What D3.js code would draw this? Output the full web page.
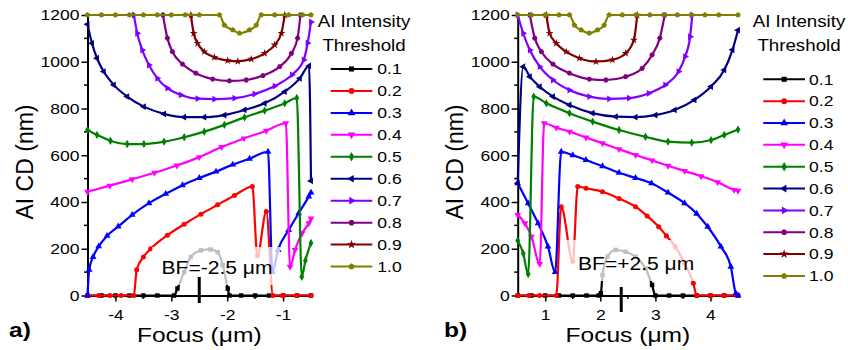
<!DOCTYPE html>
<html>
<head>
<meta charset="utf-8">
<script src="https://cdn.jsdelivr.net/npm/d3@7"></script>
<style>
  body { margin: 0; background: #fff; }
  text { font-family: "Liberation Sans", Arial, sans-serif; fill: #000; }
</style>
</head>
<body>
<svg id="chart" width="848" height="350"></svg>
<script>
// Thresholds, colours and tick values
const thresholds = ['0.1', '0.2', '0.3', '0.4', '0.5', '0.6', '0.7', '0.8', '0.9', '1.0'];
const colors = ['#000000', '#ff0000', '#0000ff', '#ff00ff', '#008000', '#000080', '#8000ff', '#800080', '#800000', '#808000'];
const yTicks = [0, 200, 400, 600, 800, 1000, 1200];
const yMinor = [100, 300, 500, 700, 900, 1100];
const aTicks = [-4, -3, -2, -1];
const aMinor = [-3.5, -2.5, -1.5];
const bTicks = [1, 2, 3, 4];
const bMinor = [1.5, 2.5, 3.5];

// Panel a) : [focus, CD]
const a01 = [[-4.5, 0], [-4.25, 0], [-4, 0], [-3.75, 0], [-3.5, 0], [-3.25, 0], [-2.95, 0], [-2.89, 30], [-2.77, 100], [-2.65, 165], [-2.47, 193], [-2.3, 197], [-2.17, 185], [-2.08, 130], [-1.99, 30], [-1.96, 0], [-1.75, 0], [-1.5, 0], [-1.25, 0], [-1, 0], [-0.75, 0], [-0.5, 0]];
const a02 = [[-4.5, 0], [-4.3, 0], [-4.1, 0], [-3.9, 0], [-3.67, 0], [-3.62, 110], [-3.5, 165], [-3.37, 200], [-3.07, 258], [-2.77, 305], [-2.47, 348], [-2.17, 388], [-1.87, 428], [-1.55, 466], [-1.46, 170], [-1.3, 359], [-1.18, 0], [-1, 0], [-0.75, 0], [-0.5, 0]];
const a03 = [[-4.5, 0], [-4.47, 110], [-4.4, 165], [-4.3, 210], [-4.15, 255], [-3.95, 295], [-3.7, 345], [-3.4, 395], [-3.1, 435], [-2.8, 472], [-2.5, 503], [-2.2, 530], [-1.9, 560], [-1.6, 585], [-1.27, 615], [-1.19, 100], [-1.09, 195], [-0.9, 280], [-0.72, 352], [-0.54, 423], [-0.5, 440]];
const a04 = [[-4.5, 444], [-4.1, 470], [-3.7, 497], [-3.3, 525], [-2.9, 556], [-2.5, 592], [-2.1, 635], [-1.7, 672], [-1.3, 705], [-0.95, 737], [-0.875, 123], [-0.785, 195], [-0.66, 266], [-0.54, 309], [-0.5, 330]];
const a05 = [[-4.5, 708], [-4.33, 687], [-4.09, 662], [-3.79, 648], [-3.49, 648], [-3.13, 658], [-2.77, 677], [-2.41, 701], [-2.05, 730], [-1.69, 762], [-1.33, 791], [-0.97, 822], [-0.755, 845], [-0.665, 80], [-0.6, 150], [-0.5, 225]];
const a06 = [[-4.5, 1160], [-4.42, 1079], [-4.33, 1015], [-4.21, 958], [-4.03, 901], [-3.79, 851], [-3.49, 808], [-3.13, 777], [-2.77, 763], [-2.41, 763], [-2.05, 772], [-1.69, 794], [-1.33, 822], [-0.97, 872], [-0.7, 929], [-0.535, 982], [-0.5, 490]];
const a07 = [[-3.67, 1200], [-3.61, 1122], [-3.52, 1050], [-3.4, 986], [-3.25, 929], [-3.07, 887], [-2.83, 858], [-2.53, 842], [-2.23, 840], [-1.87, 844], [-1.51, 862], [-1.15, 896], [-0.84, 944], [-0.63, 1008], [-0.56, 1080], [-0.5, 1170]];
const a08 = [[-3.15, 1200], [-3.07, 1101], [-2.98, 1043], [-2.8, 990], [-2.56, 951], [-2.26, 926], [-1.96, 918], [-1.66, 922], [-1.36, 941], [-1.06, 979], [-0.85, 1036], [-0.74, 1101], [-0.69, 1200]];
const a09 = [[-2.65, 1200], [-2.6, 1122], [-2.53, 1079], [-2.41, 1043], [-2.23, 1019], [-1.99, 1005], [-1.81, 1002], [-1.57, 1011], [-1.33, 1036], [-1.15, 1072], [-1.03, 1122], [-0.97, 1200]];
const a10 = [[-4.5, 1200], [-4.25, 1200], [-4, 1200], [-3.75, 1200], [-3.5, 1200], [-3.25, 1200], [-3, 1200], [-2.75, 1200], [-2.5, 1200], [-2.14, 1200], [-2.05, 1157], [-1.9, 1136], [-1.78, 1122], [-1.6, 1136], [-1.48, 1157], [-1.39, 1200], [-1.15, 1200], [-0.9, 1200], [-0.65, 1200], [-0.5, 1200]];

// Panel b)
const b01 = [[0.5, 0], [0.75, 0], [1, 0], [1.25, 0], [1.5, 0], [1.75, 0], [1.97, 0], [2.01, 10], [2.04, 88], [2.13, 166], [2.28, 195], [2.46, 187], [2.64, 166], [2.82, 116], [2.94, 45], [3, 0], [3.25, 0], [3.5, 0], [3.75, 0], [4, 0], [4.25, 0], [4.5, 0]];
const b02 = [[0.5, 0], [0.7, 0], [0.9, 0], [1.2, 0], [1.29, 380], [1.5, 145], [1.59, 466], [1.74, 459], [2.04, 444], [2.34, 415], [2.64, 380], [2.85, 340], [3.06, 294], [3.2, 255], [3.36, 209], [3.53, 138], [3.69, 52], [3.75, 0], [4, 0], [4.25, 0], [4.5, 0]];
const b03 = [[0.5, 480], [0.69, 394], [0.87, 309], [1.05, 209], [1.18, 100], [1.29, 615], [1.5, 600], [1.74, 580], [2.04, 553], [2.34, 525], [2.64, 503], [2.93, 480], [3.23, 440], [3.53, 395], [3.75, 350], [3.95, 294], [4.19, 209], [4.37, 123], [4.46, 9], [4.5, 0]];
const b04 = [[0.5, 345], [0.63, 309], [0.75, 252], [0.9, 135], [0.98, 737], [1.2, 718], [1.44, 701], [1.74, 676], [2.04, 651], [2.34, 626], [2.64, 601], [2.94, 578], [3.23, 555], [3.53, 533], [3.83, 510], [4.13, 485], [4.43, 452], [4.5, 448]];
const b05 = [[0.5, 235], [0.6, 180], [0.69, 92], [0.79, 851], [1.02, 822], [1.44, 780], [1.86, 744], [2.34, 708], [2.82, 679], [3.23, 658], [3.66, 654], [4.01, 665], [4.25, 687], [4.5, 710]];
const b06 = [[0.5, 480], [0.6, 979], [0.72, 936], [0.9, 893], [1.14, 851], [1.44, 815], [1.86, 780], [2.28, 765], [2.64, 763], [3, 772], [3.35, 794], [3.71, 837], [4.01, 894], [4.25, 965], [4.4, 1051], [4.5, 1135]];
const b07 = [[0.5, 1200], [0.6, 1122], [0.72, 1050], [0.9, 979], [1.14, 922], [1.44, 879], [1.8, 851], [2.16, 841], [2.52, 844], [2.88, 865], [3.18, 901], [3.42, 958], [3.54, 1022], [3.63, 1107], [3.67, 1200]];
const b08 = [[0.72, 1200], [0.81, 1101], [0.93, 1043], [1.14, 990], [1.44, 951], [1.8, 926], [2.1, 922], [2.46, 936], [2.76, 972], [2.94, 1029], [3.08, 1101], [3.17, 1200]];
const b09 = [[1.02, 1200], [1.08, 1122], [1.2, 1079], [1.38, 1043], [1.62, 1015], [1.92, 1001], [2.22, 1008], [2.46, 1036], [2.61, 1093], [2.67, 1200]];
const b10 = [[0.5, 1200], [0.75, 1200], [1, 1200], [1.25, 1200], [1.44, 1200], [1.53, 1157], [1.65, 1136], [1.8, 1122], [1.95, 1136], [2.07, 1157], [2.16, 1200], [2.4, 1200], [2.65, 1200], [2.9, 1200], [3.15, 1200], [3.4, 1200], [3.65, 1200], [3.9, 1200], [4.15, 1200], [4.5, 1200]];

const SX = 1.17; // the original text is a bit wide

const svg = d3.select('#chart');

// Origin-like symbols
const poly = (n, rot) => ({
  draw(ctx, size) {
    const r = Math.sqrt(size / (n * Math.sin(2 * Math.PI / n) / 2));
    for (let i = 0; i < n; i++) {
      const a = rot + i * 2 * Math.PI / n;
      if (i === 0) ctx.moveTo(r * Math.cos(a), r * Math.sin(a));
      else ctx.lineTo(r * Math.cos(a), r * Math.sin(a));
    }
    ctx.closePath();
  }
});
const symbols = [
  { type: d3.symbolSquare, rot: 0 },
  { type: d3.symbolCircle, rot: 0 },
  { type: d3.symbolTriangle, rot: 0 },
  { type: d3.symbolTriangle, rot: 180 },
  { type: d3.symbolDiamond, rot: 0 },
  { type: d3.symbolTriangle, rot: -90 },
  { type: d3.symbolTriangle, rot: 90 },
  { type: poly(6, 0), rot: 0 },
  { type: d3.symbolStar, rot: 0 },
  { type: poly(5, -Math.PI / 2), rot: 0 }
];

function stext(parent, x, y, str, size, anchor, weight) {
  return parent.append('text')
    .attr('transform', `translate(${x},${y}) scale(${SX},1)`)
    .attr('text-anchor', anchor)
    .style('font-size', size + 'px')
    .style('font-weight', weight || 'normal')
    .text(str);
}

function drawPanel(p) {
  const x = d3.scaleLinear().domain(p.domain).range(p.range);
  const y = d3.scaleLinear().domain([0, 1200]).range([295.5, 15]);
  const g = svg.append('g');

  // X axis
  const xAxis = g.append('g')
    .attr('transform', `translate(0,${y(0)})`)
    .call(d3.axisBottom(x).tickValues(p.ticks).tickFormat(d => String(d)).tickSize(6).tickSizeOuter(0).tickPadding(8));
  xAxis.selectAll('line').attr('stroke-width', 1.5);
  xAxis.append('g').selectAll('line').data(p.minor).join('line')
    .attr('x1', d => x(d)).attr('x2', d => x(d)).attr('y1', 0).attr('y2', 3.5)
    .attr('stroke', '#000').attr('stroke-width', 1.5);

  // Y axis
  const yAxis = g.append('g')
    .attr('transform', `translate(${p.range[0]},0)`)
    .call(d3.axisLeft(y).tickValues(yTicks).tickFormat(d => String(d)).tickSize(6).tickSizeOuter(0).tickPadding(2));
  yAxis.selectAll('line').attr('stroke-width', 1.5);
  yAxis.append('g').selectAll('line').data(yMinor).join('line')
    .attr('x1', 0).attr('x2', -3.5).attr('y1', d => y(d)).attr('y2', d => y(d))
    .attr('stroke', '#000').attr('stroke-width', 1.5);

  [xAxis, yAxis].forEach(ax => {
    ax.select('.domain').attr('stroke-width', 2);
    ax.selectAll('text')
      .style('font-family', '"Liberation Sans", Arial, sans-serif')
      .style('font-size', '15px')
      .attr('fill', '#000')
      .attr('transform', `scale(${SX},1)`);
  });
  yAxis.selectAll('.tick text').attr('x', -8 / SX);

  // Series
  const line = d3.line().x(d => x(d[0])).y(d => y(d[1])).curve(d3.curveMonotoneX);
  p.series.forEach((s, i) => {
    g.append('path').datum(s)
      .attr('d', line)
      .attr('fill', 'none')
      .attr('stroke', colors[i])
      .attr('stroke-width', 2.2)
      .attr('stroke-linejoin', 'round');
    g.append('g').selectAll('path').data(s).join('path')
      .attr('d', d3.symbol().type(symbols[i].type).size(20))
      .attr('transform', d => `translate(${x(d[0])},${y(d[1])}) rotate(${symbols[i].rot})`)
      .attr('fill', colors[i]);
  });

  // Best-focus label with semi-transparent box
  g.append('rect')
    .attr('x', p.box[0]).attr('y', p.box[1]).attr('width', p.box[2]).attr('height', p.box[3])
    .attr('fill', '#fff').attr('fill-opacity', 0.75);
  stext(g, p.bfText[0], p.bfText[1], p.bfLabel, 18, 'start');
  g.append('line')
    .attr('x1', x(p.bf)).attr('x2', x(p.bf))
    .attr('y1', p.bfTick[0]).attr('y2', p.bfTick[1])
    .attr('stroke', '#000').attr('stroke-width', 3);

  // Axis titles and panel label
  stext(g, (p.range[0] + p.range[1]) / 2, 342, 'Focus (\u03bcm)', 21, 'middle');
  g.append('text')
    .attr('transform', `translate(${p.yTitleX},162) rotate(-90)`)
    .attr('text-anchor', 'middle')
    .style('font-size', '23px')
    .text('AI CD (nm)');
  stext(g, p.tag[0], 337, p.tag[1], 21, 'start', 'bold');

  // Legend
  const lg = p.legend;
  stext(g, lg.cx, 26.7, 'AI Intensity', 16, 'middle');
  stext(g, lg.cx, 51, 'Threshold', 16, 'middle');
  thresholds.forEach((t, i) => {
    const ly = lg.y0 + i * lg.dy;
    g.append('line')
      .attr('x1', lg.x1).attr('x2', lg.x2).attr('y1', ly).attr('y2', ly)
      .attr('stroke', colors[i]).attr('stroke-width', 2);
    g.append('path')
      .attr('d', d3.symbol().type(symbols[i].type).size(26))
      .attr('transform', `translate(${(lg.x1 + lg.x2) / 2},${ly}) rotate(${symbols[i].rot})`)
      .attr('fill', colors[i]);
    stext(g, lg.tx, ly + 5.3, t, 15, 'start');
  });
}

drawPanel({
  domain: [-4.5, -0.5], range: [87.5, 311],
  ticks: aTicks, minor: aMinor,
  series: [a01, a02, a03, a04, a05, a06, a07, a08, a09, a10],
  box: [152, 247, 128, 38], bfText: [161.5, 274], bfLabel: 'BF=-2.5 \u03bcm',
  bf: -2.5, bfTick: [277, 303],
  yTitleX: 33, tag: [9, 'a)'],
  legend: { cx: 364, x1: 330.7, x2: 372.3, tx: 377.3, y0: 69, dy: 21.95 }
});

drawPanel({
  domain: [0.5, 4.5], range: [517.7, 738],
  ticks: bTicks, minor: bMinor,
  series: [b01, b02, b03, b04, b05, b06, b07, b08, b09, b10],
  box: [563, 240, 137, 41], bfText: [578, 270], bfLabel: 'BF=+2.5 \u03bcm',
  bf: 2.38, bfTick: [287, 312],
  yTitleX: 463, tag: [444, 'b)'],
  legend: { cx: 799, x1: 763.3, x2: 805, tx: 809, y0: 79.3, dy: 21.85 }
});
</script>
</body>
</html>
